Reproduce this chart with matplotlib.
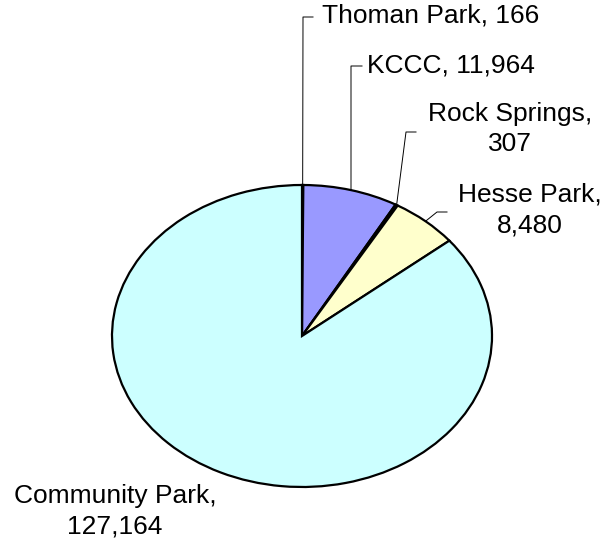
import numpy as np
import matplotlib.pyplot as plt

plt.rcParams['font.family'] = ['Liberation Sans', 'DejaVu Sans']

parks = ["Thoman Park", "KCCC", "Rock Springs", "Hesse Park", "Community Park"]
visits = [166, 11964, 307, 8480, 127164]
colors = ["#660066", "#9999FF", "#993366", "#FFFFCC", "#CCFFFF"]

# label layout in pixels: (text x, text y, elbow x, elbow y, end x, ha)
label_pos = {
    "Thoman Park":    (322, 16, 303, 17, 313, "left"),
    "KCCC":           (367, 66, 351, 66, 362, "left"),
    "Rock Springs":   (510, 129, 406, 132, 416, "center"),
    "Hesse Park":     (530, 210, 437, 212, 447, "center"),
    "Community Park": (115, 511, None, None, None, "center"),
}
label_text = {
    "Thoman Park": "Thoman Park, 166",
    "KCCC": "KCCC, 11,964",
    "Rock Springs": "Rock Springs,\n307",
    "Hesse Park": "Hesse Park,\n8,480",
    "Community Park": "Community Park,\n127,164",
}

W, H = 610, 546
fig = plt.figure(figsize=(W / 100, H / 100), dpi=100)

# ellipse box in pixels
cx, cy, rx, ry = 302, 336, 190, 151
ax = fig.add_axes([(cx - rx) / W, (H - cy - ry) / H, 2 * rx / W, 2 * ry / H])
wedges, _ = ax.pie(visits, colors=colors, startangle=90, counterclock=False,
                   radius=1, wedgeprops=dict(edgecolor="black", linewidth=1.6))
for w in wedges:
    w.set_clip_on(False)
ax.set_aspect("auto")
ax.set_xlim(-1, 1)
ax.set_ylim(-1, 1)
ax.axis("off")

ov = fig.add_axes([0, 0, 1, 1])
ov.set_xlim(0, W)
ov.set_ylim(H, 0)
ov.axis("off")

for w, name in zip(wedges, parks):
    tx, ty, ex, ey, hx, ha = label_pos[name]
    mid = np.deg2rad((w.theta1 + w.theta2) / 2)
    sx = cx + rx * np.cos(mid)
    sy = cy - ry * np.sin(mid)
    if ex is not None:
        ov.plot([sx, ex, hx], [sy, ey, ey], color="black", lw=0.7)
    ov.text(tx, ty, label_text[name], ha=ha, va="center", fontsize=19,
            linespacing=1.35)

fig.savefig("out.png", dpi=100)
